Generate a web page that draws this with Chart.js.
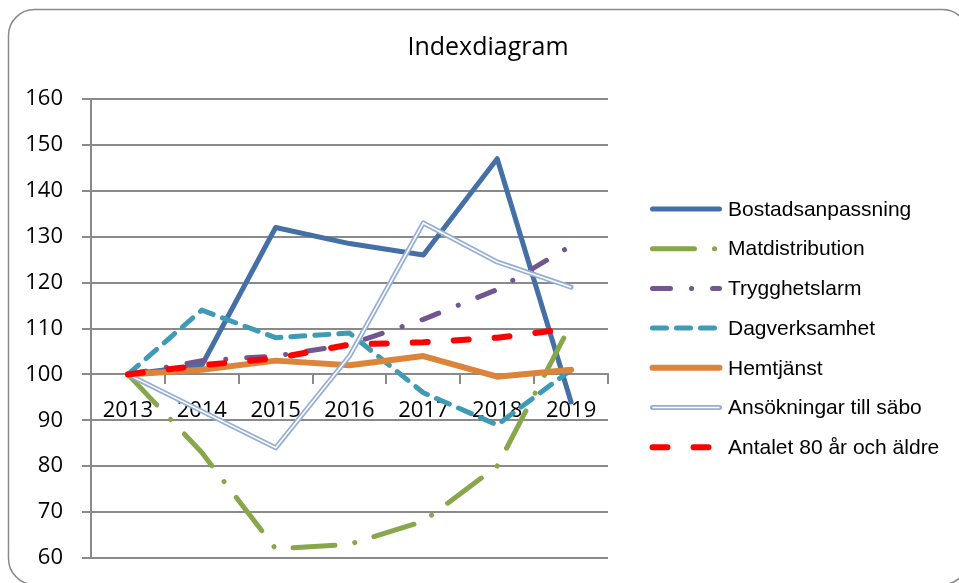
<!DOCTYPE html>
<html>
<head>
<meta charset="utf-8">
<script src="https://cdn.jsdelivr.net/npm/chart.js@4"></script>
<style>
  html, body { margin: 0; padding: 0; background: #fff; }
  #wrap { width: 959px; height: 583px; position: relative; }
</style>
</head>
<body>
<div id="wrap"><canvas id="chart" width="959" height="583"></canvas></div>
<script>
const years = ["2013", "2014", "2015", "2016", "2017", "2018", "2019"];

const bostadsanpassning = [100, 102, 132, 128.5, 126, 147, 94];
const matdistribution = [100, 83, 62, 63, 68, 80, 111];
const trygghetslarm = [100, 103, 104, 106.5, 112, 118.5, 128];
const dagverksamhet = [100, 114, 108, 109, 96, 89, 101];
const hemtjanst = [100, 101, 103, 102, 104, 99.5, 101];
const ansokningar = [100, 92, 84, 104, 133, 124.5, 119];
const antalet80 = [100, 102, 103.5, 106.5, 107, 108, 110];

const seriesNames = [
  "Bostadsanpassning",
  "Matdistribution",
  "Trygghetslarm",
  "Dagverksamhet",
  "Hemtjänst",
  "Ansökningar till säbo",
  "Antalet 80 år och äldre",
];

const yTicks = [60, 70, 80, 90, 100, 110, 120, 130, 140, 150, 160];

const styles = [
  { color: "#4470a6", width: 5, dash: [] },
  { color: "#88a74a", width: 5, dash: [42, 20, 0.1, 20] },
  { color: "#71568f", width: 5, dash: [18, 21, 0.1, 21] },
  { color: "#3f9ab4", width: 5, dash: [14, 10] },
  { color: "#dc8439", width: 6, dash: [] },
  { color: "#94aed6", width: 5, dash: [], double: true },
  { color: "#ff0000", width: 6, dash: [15, 26] },
];

const seriesData = [bostadsanpassning, matdistribution, trygghetslarm, dagverksamhet, hemtjanst, ansokningar, antalet80];

// excel draws later series on top, chart.js draws low "order" on top
let datasets = [];
seriesData.forEach((data, i) => {
  let s = styles[i];
  datasets.push({
    label: seriesNames[i],
    data: data,
    borderColor: s.color,
    borderWidth: s.width,
    borderDash: s.dash,
    borderCapStyle: "round",
    borderJoinStyle: "round",
    pointRadius: 0,
    fill: false,
    tension: 0,
    order: 10 - i,
  });
  if (s.double) {
    datasets.push({
      label: seriesNames[i] + "_inner",
      data: data,
      borderColor: "#ffffff",
      borderWidth: 1.6,
      borderJoinStyle: "round",
      pointRadius: 0,
      fill: false,
      tension: 0,
      order: 10 - i - 0.5,
    });
  }
});

const framePlugin = {
  id: "frame",
  beforeDraw(chart) {
    let ctx = chart.ctx;
    ctx.save();
    ctx.fillStyle = "#fff";
    ctx.fillRect(0, 0, chart.width, chart.height);
    ctx.strokeStyle = "#8a8a8a";
    ctx.lineWidth = 1.5;
    ctx.beginPath();
    ctx.roundRect(8.5, 9.5, 960, 575, 26);
    ctx.stroke();
    ctx.fillStyle = "#000";
    ctx.font = "25px 'Open Sans'";
    ctx.textAlign = "center";
    ctx.textBaseline = "middle";
    ctx.fillText("Indexdiagram", 488, 48);
    ctx.restore();
  },
  afterDraw(chart) {
    let ctx = chart.ctx;
    ctx.save();
    seriesNames.forEach((name, i) => {
      let s = styles[i];
      let y = 209 + i * 39.7;
      ctx.beginPath();
      ctx.moveTo(652.5, y);
      ctx.lineTo(719.5, y);
      ctx.lineCap = "round";
      ctx.strokeStyle = s.color;
      ctx.lineWidth = s.width;
      ctx.setLineDash(s.dash);
      ctx.stroke();
      if (s.double) {
        ctx.beginPath();
        ctx.moveTo(652.5, y);
        ctx.lineTo(719.5, y);
        ctx.lineCap = "butt";
        ctx.strokeStyle = "#fff";
        ctx.lineWidth = 1.6;
        ctx.stroke();
      }
      ctx.setLineDash([]);
      ctx.fillStyle = "#000";
      ctx.font = "21px 'Liberation Sans'";
      ctx.textAlign = "left";
      ctx.textBaseline = "middle";
      ctx.fillText(name, 728, y + 1);
    });
    ctx.restore();
  },
};

var ctx = document.getElementById("chart").getContext("2d");
var myChart = new Chart(ctx, {
  type: "line",
  data: {
    labels: years,
    datasets: datasets,
  },
  options: {
    responsive: false,
    animation: false,
    devicePixelRatio: 1,
    layout: {
      padding: { left: 0, right: 351, top: 99, bottom: 25 },
    },
    plugins: {
      legend: { display: false },
      title: { display: false },
      tooltip: { enabled: false },
    },
    scales: {
      x: {
        position: { y: 100 },
        offset: true,
        // the axis sits at 100 inside the plot, so it takes no room below
        afterFit: (scale) => {
          scale.height = 0;
        },
        grid: {
          offset: true,
          drawOnChartArea: false,
          drawTicks: true,
          tickLength: 9,
          color: "#8a8a8a",
          lineWidth: 2,
        },
        border: { display: true, color: "#8a8a8a", width: 2 },
        ticks: {
          color: "#000",
          font: { family: "'Open Sans'", size: 22 },
          padding: 14,
          maxRotation: 0,
        },
      },
      y: {
        min: 60,
        max: 160,
        afterFit: (scale) => {
          scale.width = 91;
          // keep the plot edges fixed by the layout padding
          scale.paddingTop = 0;
          scale.paddingBottom = 0;
        },
        afterBuildTicks: (scale) => {
          scale.ticks = yTicks.map((v) => ({ value: v }));
        },
        grid: {
          color: "#8a8a8a",
          lineWidth: 2,
          tickLength: 9,
        },
        border: { display: true, color: "#8a8a8a", width: 2 },
        ticks: {
          color: "#000",
          font: { family: "'Open Sans'", size: 22 },
          padding: 19,
        },
      },
    },
  },
  plugins: [framePlugin],
});
</script>
</body>
</html>
